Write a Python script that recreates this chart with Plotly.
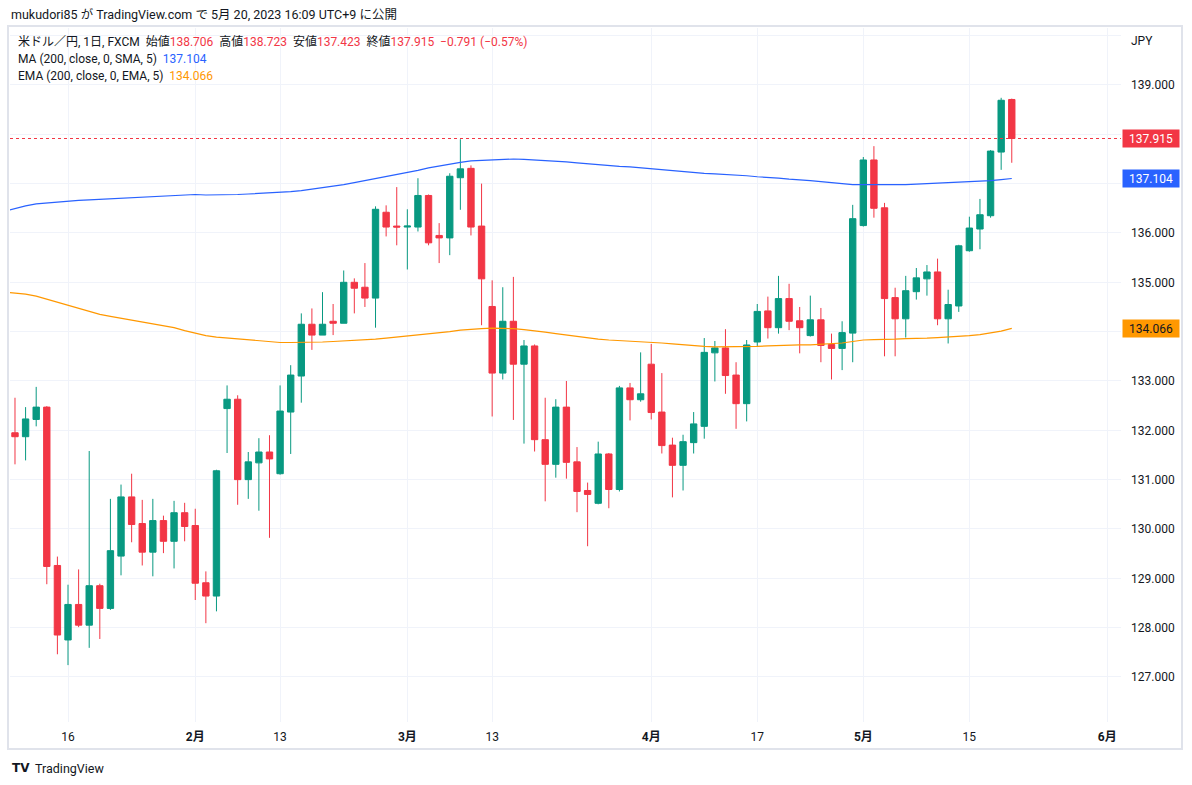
import plotly.graph_objects as go
import pandas as pd

# ---------------- data ----------------
dates = [d.strftime("%Y-%m-%d") for d in pd.bdate_range("2023-01-09", "2023-05-19")]

opens = [131.95, 131.87, 132.22, 132.47, 129.26, 127.75, 128.47, 128.05, 128.85, 128.39,
         129.45, 130.65, 130.11, 129.53, 130.17, 129.75, 130.33, 130.07, 128.91, 128.64,
         132.44, 132.63, 131.00, 131.34, 131.56, 131.12, 132.37, 133.10, 134.15, 133.93,
         134.21, 134.17, 135.00, 134.90, 134.68, 136.42, 136.14, 136.12, 136.12, 136.76,
         135.95, 135.90, 137.12, 137.31, 136.14, 134.51, 133.16, 134.21, 133.34, 133.71,
         131.81, 131.31, 132.47, 131.36, 130.78, 130.52, 131.52, 130.80, 132.86, 132.62,
         133.34, 132.37, 131.70, 131.29, 131.75, 132.08, 133.57, 133.67, 133.12, 132.54,
         133.79, 134.42, 134.08, 134.67, 134.22, 133.92, 134.24, 133.74, 133.66, 133.97,
         136.15, 137.48, 136.51, 134.69, 134.26, 134.81, 135.07, 135.21, 134.26, 134.52,
         135.64, 136.08, 136.35, 137.64, 138.706]
highs = [132.66, 132.47, 132.88, 132.49, 129.44, 128.87, 129.18, 131.58, 128.89, 130.61,
         130.90, 131.12, 130.59, 130.61, 130.27, 130.57, 130.53, 130.41, 129.14, 131.20,
         132.91, 132.71, 131.56, 131.84, 131.90, 132.91, 133.32, 134.37, 134.47, 134.80,
         134.56, 135.24, 135.08, 135.39, 136.54, 136.56, 136.93, 136.48, 137.11, 136.78,
         136.20, 137.21, 137.90, 137.37, 137.00, 135.04, 134.90, 135.11, 133.83, 133.74,
         132.66, 132.63, 133.00, 131.66, 130.94, 131.77, 131.54, 132.90, 132.96, 133.58,
         133.75, 133.16, 131.85, 131.91, 132.37, 133.87, 133.81, 134.05, 133.38, 133.83,
         134.56, 134.71, 135.13, 134.97, 134.50, 134.73, 134.48, 133.96, 134.21, 136.57,
         137.54, 137.76, 136.61, 134.89, 135.13, 135.29, 135.35, 135.48, 134.85, 135.76,
         136.33, 136.69, 137.68, 138.74, 138.723]
lows = [131.31, 131.39, 132.08, 128.88, 127.46, 127.24, 128.01, 127.59, 127.77, 128.36,
        129.06, 129.73, 129.26, 129.04, 129.51, 129.20, 129.75, 128.56, 128.09, 128.33,
        131.54, 130.49, 130.61, 130.37, 129.82, 131.10, 131.52, 132.56, 133.63, 133.93,
        133.93, 134.17, 134.37, 134.50, 134.08, 135.93, 135.75, 135.26, 136.03, 135.75,
        135.39, 135.55, 136.47, 135.95, 134.13, 132.28, 133.03, 132.21, 131.73, 131.57,
        130.56, 131.04, 131.02, 130.34, 129.65, 130.50, 130.42, 130.76, 132.20, 132.58,
        132.22, 131.53, 130.64, 130.78, 131.53, 131.83, 132.99, 132.74, 132.03, 132.18,
        133.71, 133.86, 133.96, 134.03, 133.56, 133.90, 133.38, 133.03, 133.22, 133.38,
        136.13, 136.31, 133.50, 133.50, 133.88, 134.65, 134.73, 134.13, 133.76, 134.40,
        135.62, 135.67, 136.31, 137.28, 137.423]
closes = [131.87, 132.23, 132.47, 129.24, 127.85, 128.47, 128.05, 128.85, 128.39, 129.56,
          130.65, 130.09, 129.53, 130.17, 129.75, 130.33, 130.05, 128.90, 128.64, 131.18,
          132.63, 131.00, 131.36, 131.56, 131.42, 132.39, 133.12, 134.15, 133.93, 134.15,
          134.17, 135.00, 134.88, 134.68, 136.48, 136.12, 136.12, 136.14, 136.76, 135.80,
          135.90, 137.15, 137.30, 136.12, 135.07, 133.16, 134.21, 133.34, 133.71, 131.81,
          131.31, 132.47, 131.35, 130.76, 130.70, 131.52, 130.80, 132.86, 132.62, 132.74,
          132.36, 131.69, 131.29, 131.77, 132.13, 133.58, 133.67, 133.11, 132.54, 133.73,
          134.41, 134.08, 134.67, 134.21, 134.08, 134.24, 133.72, 133.66, 133.98, 136.29,
          137.48, 136.50, 134.67, 134.26, 134.83, 135.09, 135.21, 134.26, 134.55, 135.74,
          136.10, 136.37, 137.66, 138.69, 137.915]

line_dates = ["2023-01-06"] + dates
ma200 = [136.44,
         136.50, 136.55, 136.59, 136.61, 136.63, 136.65, 136.66, 136.67, 136.68, 136.69,
         136.70, 136.72, 136.73, 136.73, 136.74, 136.75, 136.77, 136.78, 136.77, 136.77,
         136.78, 136.78, 136.79, 136.80, 136.81, 136.82, 136.84, 136.86, 136.89, 136.91,
         136.94, 136.98, 137.02, 137.06, 137.10, 137.14, 137.19, 137.23, 137.27, 137.32,
         137.36, 137.40, 137.43, 137.46, 137.47, 137.49, 137.50, 137.50, 137.49, 137.48,
         137.47, 137.45, 137.44, 137.42, 137.40, 137.39, 137.37, 137.35, 137.34, 137.32,
         137.30, 137.28, 137.26, 137.24, 137.23, 137.21, 137.20, 137.19, 137.17, 137.16,
         137.14, 137.13, 137.11, 137.09, 137.08, 137.06, 137.04, 137.02, 136.99, 136.98,
         136.98, 136.98, 136.97, 136.97, 136.98, 136.99, 137.00, 137.00, 137.01, 137.02,
         137.03, 137.04, 137.06, 137.08, 137.104]
ema200 = [134.80,
          134.78, 134.76, 134.72, 134.66, 134.60, 134.54, 134.48, 134.41, 134.35, 134.31,
          134.27, 134.23, 134.20, 134.16, 134.12, 134.08, 134.02, 133.97, 133.92, 133.89,
          133.87, 133.85, 133.83, 133.81, 133.80, 133.78, 133.78, 133.78, 133.79, 133.79,
          133.80, 133.81, 133.82, 133.83, 133.85, 133.87, 133.89, 133.91, 133.93, 133.95,
          133.97, 134.00, 134.03, 134.05, 134.06, 134.07, 134.07, 134.06, 134.04, 134.02,
          133.99, 133.96, 133.93, 133.90, 133.87, 133.85, 133.83, 133.82, 133.81, 133.80,
          133.79, 133.77, 133.75, 133.73, 133.72, 133.70, 133.69, 133.69, 133.69, 133.69,
          133.70, 133.71, 133.72, 133.72, 133.73, 133.73, 133.74, 133.75, 133.77, 133.80,
          133.83, 133.84, 133.84, 133.85, 133.86, 133.86, 133.87, 133.88, 133.89, 133.90,
          133.92, 133.94, 133.97, 134.01, 134.066]

tick_dates = ["2023-01-16", "2023-02-01", "2023-02-13", "2023-03-01", "2023-03-13",
              "2023-04-03", "2023-04-17", "2023-05-01", "2023-05-15", "2023-06-01"]
tick_labels = ["16", "<b>2月</b>", "13", "<b>3月</b>", "13",
               "<b>4月</b>", "17", "<b>5月</b>", "15", "<b>6月</b>"]
price_ticks = [127, 128, 129, 130, 131, 132, 133, 134, 135, 136, 137, 138, 139, 140]
hidden_price_ticks = [134, 137, 138, 140]   # covered by the price badges / not shown
price_labels = ["" if v in hidden_price_ticks else f"{v:.3f}" for v in price_ticks]

change = -0.791
change_pct = -0.57

# ---------------- style ----------------
GREEN = "#089981"
RED = "#F23645"
BLUE = "#2962FF"
ORANGE = "#FF9800"
TXT = "#131722"
GRID = "#f0f3fa"
FONT = "Roboto, 'Noto Sans CJK JP', sans-serif"

W_FIG, H_FIG = 1192, 785
L, R, T, B = 10, 1121, 28, 722
PW, PH = R - L, B - T


def px(x):
    return (x - L) / PW


def py(y):
    return (B - y) / PH


fig = go.Figure()
fig.add_trace(go.Candlestick(
    x=dates, open=opens, high=highs, low=lows, close=closes,
    increasing=dict(line=dict(color=GREEN, width=1), fillcolor=GREEN),
    decreasing=dict(line=dict(color=RED, width=1), fillcolor=RED),
    whiskerwidth=0, showlegend=False, hoverinfo="skip",
))
fig.add_trace(go.Scatter(x=line_dates, y=ma200, mode="lines",
                         line=dict(color=BLUE, width=1.2), showlegend=False, hoverinfo="skip"))
fig.add_trace(go.Scatter(x=line_dates, y=ema200, mode="lines",
                         line=dict(color=ORANGE, width=1.2), showlegend=False, hoverinfo="skip"))

# last price dotted line
fig.add_shape(type="line", xref="paper", x0=0, x1=1, yref="y",
              y0=closes[-1], y1=closes[-1],
              line=dict(color=RED, width=1, dash="dot"), layer="above")

# frame
fig.add_shape(type="rect", xref="paper", yref="paper",
              x0=px(8), x1=px(1182), y0=py(749), y1=py(26),
              line=dict(color="#e0e3eb", width=2), fillcolor="rgba(0,0,0,0)", layer="below")

ann = []
ann.append(dict(xref="paper", yref="paper", x=px(9), y=py(14), xanchor="left", yanchor="middle",
                showarrow=False, font=dict(size=12.5, color=TXT, family=FONT),
                text="mukudori85 が TradingView.com で 5月 20, 2023 16:09 UTC+9 に公開"))

sp = "\u00a0\u00a0"
leg1 = ("米ドル／円, 1日, FXCM" + sp +
        f"始値<span style='color:{RED}'>{opens[-1]:.3f}</span>" + sp +
        f"高値<span style='color:{RED}'>{highs[-1]:.3f}</span>" + sp +
        f"安値<span style='color:{RED}'>{lows[-1]:.3f}</span>" + sp +
        f"終値<span style='color:{RED}'>{closes[-1]:.3f}</span>" + sp +
        f"<span style='color:{RED}'>{change:.3f} ({change_pct:.2f}%)</span>".replace("-", "\u2212"))
leg2 = f"MA (200, close, 0, SMA, 5)\u00a0 <span style='color:{BLUE}'>{ma200[-1]:.3f}</span>"
leg3 = f"EMA (200, close, 0, EMA, 5)\u00a0 <span style='color:{ORANGE}'>{ema200[-1]:.3f}</span>"
for txt, yy in [(leg1, 41), (leg2, 59), (leg3, 76)]:
    ann.append(dict(xref="paper", yref="paper", x=px(16), y=py(yy), xanchor="left", yanchor="middle",
                    showarrow=False, font=dict(size=12, color=TXT, family=FONT), text=txt))

ann.append(dict(xref="paper", yref="paper", x=px(1142), y=py(41), xanchor="center", yanchor="middle",
                showarrow=False, font=dict(size=12, color=TXT, family=FONT), text="JPY"))

# price labels on the scale
for val, bg, fc in [(closes[-1], RED, "white"), (ma200[-1], BLUE, "white"), (ema200[-1], ORANGE, TXT)]:
    ann.append(dict(xref="paper", yref="y", x=1, y=val, xanchor="left", yanchor="middle",
                    xshift=1, showarrow=False, width=56, height=17, bgcolor=bg, borderpad=0,
                    align="center", font=dict(size=12, color=fc, family=FONT),
                    text=f"{val:.3f}"))

# logo
ann.append(dict(xref="paper", yref="paper", x=px(10), y=py(768), xanchor="left", yanchor="middle",
                showarrow=False, font=dict(size=12, color=TXT, family="DejaVu Sans"),
                text="<b>TV</b>"))
ann.append(dict(xref="paper", yref="paper", x=px(33), y=py(768), xanchor="left", yanchor="middle",
                showarrow=False, font=dict(size=12.5, color=TXT, family=FONT),
                text="TradingView"))

fig.update_layout(
    width=W_FIG, height=H_FIG,
    margin=dict(l=L, r=W_FIG - R, t=T, b=H_FIG - B, autoexpand=False),
    paper_bgcolor="white", plot_bgcolor="white",
    boxgap=0.2, boxgroupgap=0.25,
    annotations=ann,
    font=dict(family=FONT, color=TXT, size=12),
    xaxis=dict(
        type="date",
        range=["2023-01-06 12:43", "2023-06-02 07:12"],
        rangebreaks=[dict(bounds=["sat", "mon"])],
        rangeslider=dict(visible=False),
        tickmode="array", tickvals=tick_dates, ticktext=tick_labels,
        showgrid=True, gridcolor=GRID, gridwidth=1,
        showline=False, zeroline=False, ticks="",
        tickfont=dict(size=12, color=TXT, family=FONT),
        ticklabelstandoff=6,
    ),
    yaxis=dict(
        side="right",
        range=[126.087, 140.155],
        tickmode="array", tickvals=price_ticks, ticktext=price_labels,
        showgrid=True, gridcolor=GRID, gridwidth=1,
        showline=False, zeroline=False, ticks="",
        tickfont=dict(size=12, color=TXT, family=FONT),
        ticklabelstandoff=9,
    ),
    hovermode=False,
)

fig.write_html("out.html", config={"displayModeBar": False},
               post_script="document.body.style.margin='0';document.body.style.padding='0';")
